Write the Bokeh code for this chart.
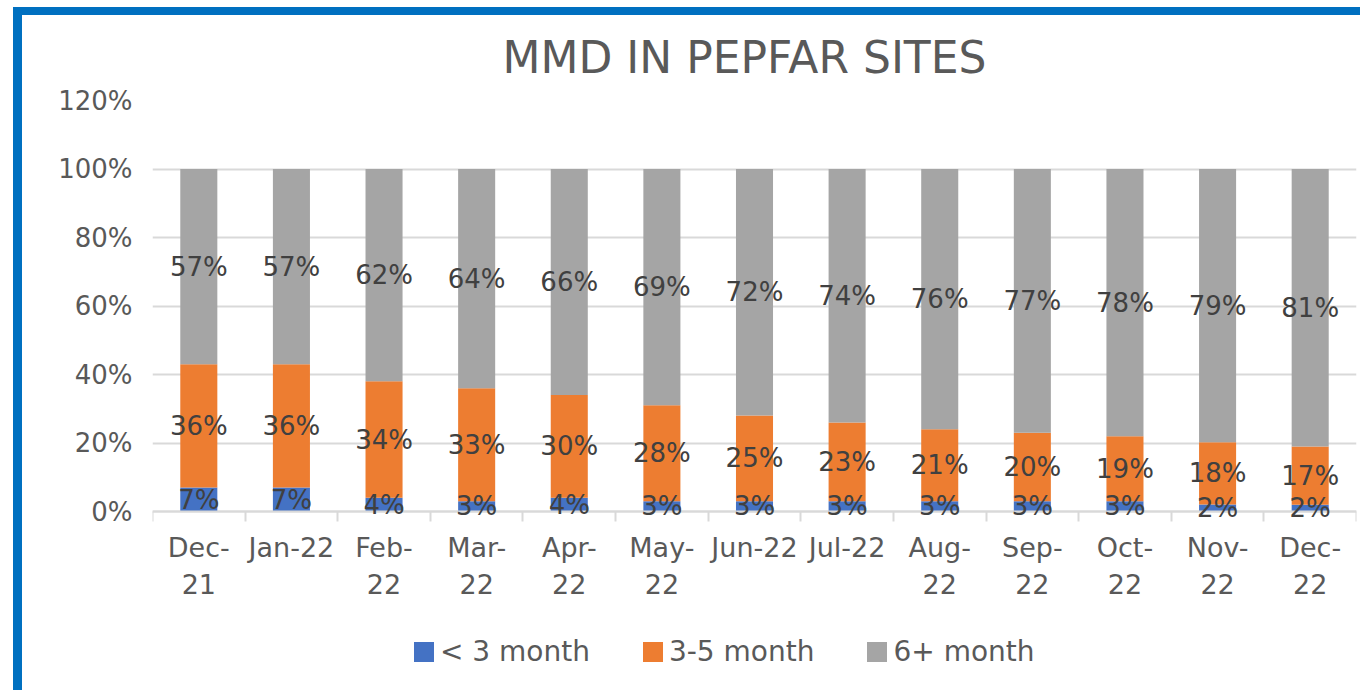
import numpy as np
from bokeh.plotting import figure
from bokeh.models import (ColumnDataSource, FixedTicker, LabelSet, Legend, LegendItem,
                          NumeralTickFormatter)
from bokeh.core.properties import value
from bokeh.embed import file_html
from bokeh.resources import INLINE

months = ["Dec-21", "Jan-22", "Feb-22", "Mar-22", "Apr-22", "May-22", "Jun-22",
          "Jul-22", "Aug-22", "Sep-22", "Oct-22", "Nov-22", "Dec-22"]
tick_labels = ["Dec-\n21", "Jan-22", "Feb-\n22", "Mar-\n22", "Apr-\n22", "May-\n22", "Jun-22",
               "Jul-22", "Aug-\n22", "Sep-\n22", "Oct-\n22", "Nov-\n22", "Dec-\n22"]
lt3 = [7, 7, 4, 3, 4, 3, 3, 3, 3, 3, 3, 2, 2]
m35 = [36, 36, 34, 33, 30, 28, 25, 23, 21, 20, 19, 18, 17]
m6 = [57, 57, 62, 64, 66, 69, 72, 74, 76, 77, 78, 79, 81]
series_names = ["< 3 month", "3-5 month", "6+ month"]
colors = ["#4472C4", "#ED7D31", "#A5A5A5"]

FONT = "DejaVu Sans"
TXT = "#595959"

x = np.arange(len(months))
vals = np.array([lt3, m35, m6], dtype=float)
shares = vals / vals.sum(axis=0)  # 100% stacked

src = ColumnDataSource(dict(x=x, s0=shares[0], s1=shares[1], s2=shares[2]))

# layout in pixels: value axis 0..1.2 spans 411 px; frame continues 179 px below 0
Y_TOP = 1.2
y_bottom = -Y_TOP * 179 / 411

p = figure(width=1360, height=690, output_backend="svg", toolbar_location=None,
           x_range=(-0.5, len(months) - 0.5), y_range=(y_bottom, Y_TOP),
           min_border_left=152, min_border_right=4, min_border_top=100, min_border_bottom=0,
           border_fill_color=None)
p.styles = {
    "background": "linear-gradient(#0070C0,#0070C0) 13px 7px / 9px 100% no-repeat, "
                  "linear-gradient(#0070C0,#0070C0) 13px 7px / 100% 8px no-repeat, white"
}

renderers = p.vbar_stack(["s0", "s1", "s2"], x="x", width=0.4, source=src,
                         color=colors, line_color=None)

# data labels
lab_x, lab_y, lab_t = [], [], []
bottom = np.zeros(len(months))
for i in range(3):
    mid = bottom + shares[i] / 2
    for j in range(len(months)):
        lab_x.append(x[j]); lab_y.append(mid[j]); lab_t.append(f"{int(vals[i][j])}%")
    bottom = bottom + shares[i]
lsrc = ColumnDataSource(dict(x=lab_x, y=lab_y, t=lab_t))
p.add_layout(LabelSet(x="x", y="y", text="t", source=lsrc, text_align="center",
                      text_baseline="middle", text_font=value(FONT), text_font_size="26px",
                      text_color="#404040"))

# axes
p.xaxis.fixed_location = 0
p.xaxis.ticker = FixedTicker(ticks=list(x), minor_ticks=list(np.arange(-0.5, len(months), 1.0)))
p.xaxis.major_label_overrides = {int(i): t for i, t in zip(x, tick_labels)}
p.xaxis.major_tick_line_color = None
p.xaxis.minor_tick_line_color = "#D9D9D9"
p.xaxis.minor_tick_line_width = 2
p.xaxis.minor_tick_out = 10
p.xaxis.minor_tick_in = 0
p.xaxis.axis_line_color = "#D9D9D9"
p.xaxis.axis_line_width = 2
p.xaxis.major_label_text_font = FONT
p.xaxis.major_label_text_font_size = "27px"
p.xaxis.major_label_text_color = TXT
p.xaxis.major_label_standoff = 10

p.yaxis.ticker = FixedTicker(ticks=[0, 0.2, 0.4, 0.6, 0.8, 1.0, 1.2])
p.yaxis.formatter = NumeralTickFormatter(format="0%")
p.yaxis.axis_line_color = None
p.yaxis.major_tick_line_color = None
p.yaxis.minor_tick_line_color = None
p.yaxis.major_label_text_font = FONT
p.yaxis.major_label_text_font_size = "26px"
p.yaxis.major_label_text_color = TXT
p.yaxis.major_label_standoff = 14

p.xgrid.grid_line_color = None
p.ygrid.grid_line_color = "#D9D9D9"
p.ygrid.grid_line_width = 2
p.outline_line_color = None

# title
p.title.text = "MMD IN PEPFAR SITES"
p.title.align = "left"
p.title.offset = 350
p.title.text_font = FONT
p.title.text_font_size = "44px"
p.title.text_font_style = "normal"
p.title.text_color = TXT
p.title.standoff = 36

# legend
items = [LegendItem(label=n, renderers=[r]) for n, r in zip(series_names, renderers)]
legend = Legend(items=items, orientation="horizontal", location=(259, 22),
                border_line_color=None, background_fill_alpha=0, padding=0, margin=0,
                spacing=50, glyph_width=25, glyph_height=25, label_standoff=4,
                label_text_font=FONT, label_text_font_size="28px", label_text_color=TXT)
p.add_layout(legend, "center")

open("out.html", "w").write(file_html(p, INLINE))
